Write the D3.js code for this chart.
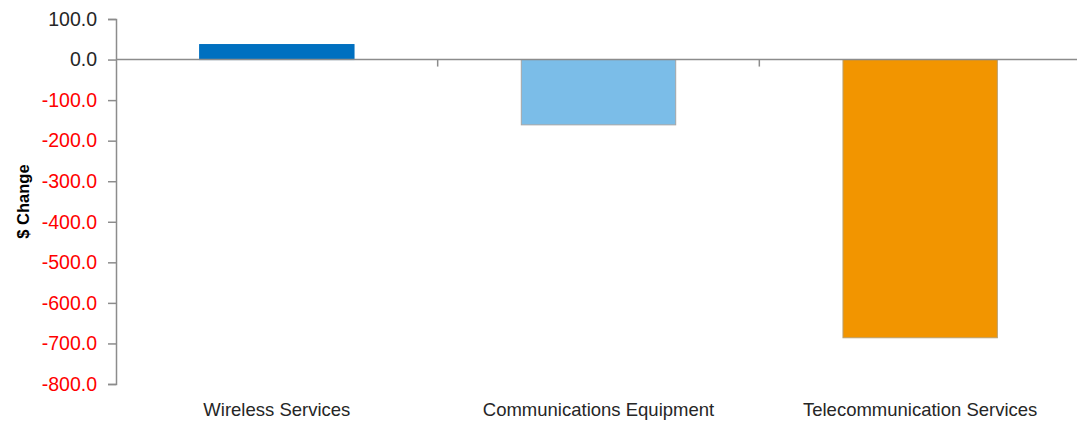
<!DOCTYPE html>
<html>
<head>
<meta charset="utf-8">
<script src="https://cdn.jsdelivr.net/npm/d3@7"></script>
<style>
  html, body { margin: 0; padding: 0; background: #fff; }
  svg { display: block; font-family: "Liberation Sans", Arial, sans-serif; }
</style>
</head>
<body>
<svg id="chart" width="1077" height="423"></svg>
<script>
// Change in dollars by industry
const categories = ["Wireless Services", "Communications Equipment", "Telecommunication Services"];
const values = [37, -161, -686];
const colors = ["#0070C0", "#7BBDE8", "#F29500"];
const strokes = ["#0070C0", "#A6A6A6", "#B8A070"];
const yTicks = [100, 0, -100, -200, -300, -400, -500, -600, -700, -800];

const svg = d3.select("#chart");
const margin = { left: 116, right: -4, top: 19, bottom: 39 };
const W = 1077, H = 423;

const x = d3.scaleBand()
  .domain(categories)
  .range([margin.left, W - margin.right])
  .paddingInner(0.52)
  .paddingOuter(0.26);

const y = d3.scaleLinear()
  .domain([-800, 100])
  .range([H - margin.bottom, margin.top]);

const axisColor = "#8C8C8C";
const fmt = (d) => d3.format(".1f")(d).replace("\u2212", "-");

// Bars
svg.append("g").selectAll("rect")
  .data(categories)
  .join("rect")
  .attr("x", (d) => x(d))
  .attr("width", x.bandwidth())
  .attr("y", (d, i) => y(Math.max(0, values[i])))
  .attr("height", (d, i) => Math.abs(y(values[i]) - y(0)))
  .attr("fill", (d, i) => colors[i])
  .attr("stroke", (d, i) => strokes[i])
  .attr("stroke-width", 1);

// Horizontal category axis at zero
svg.append("line")
  .attr("x1", margin.left).attr("x2", W)
  .attr("y1", y(0)).attr("y2", y(0))
  .attr("stroke", axisColor).attr("stroke-width", 1.5);

// Category separators below the zero line
const bounds = categories.slice(1).map((c) => x(c) - x.step() * x.paddingInner() / 2);
svg.append("g").selectAll("line")
  .data(bounds)
  .join("line")
  .attr("x1", (d) => d).attr("x2", (d) => d)
  .attr("y1", y(0)).attr("y2", y(0) + 7)
  .attr("stroke", axisColor).attr("stroke-width", 1.5);

// Category labels along the bottom
svg.append("g").selectAll("text")
  .data(categories)
  .join("text")
  .attr("x", (d) => x(d) + x.bandwidth() / 2)
  .attr("y", 416)
  .attr("text-anchor", "middle")
  .attr("font-size", 18.5)
  .attr("fill", "#262626")
  .text((d) => d);

// Vertical value axis
const yAxis = d3.axisLeft(y)
  .tickValues(yTicks)
  .tickSize(8)
  .tickFormat(fmt);

const gy = svg.append("g")
  .attr("transform", `translate(${margin.left},0)`)
  .call(yAxis);
gy.select(".domain").attr("stroke", axisColor).attr("stroke-width", 1.5);
gy.selectAll(".tick line").attr("stroke", axisColor).attr("stroke-width", 1.5);
gy.selectAll(".tick text")
  .attr("x", -19)
  .attr("font-size", 19.5)
  .attr("font-family", "Liberation Sans, Arial, sans-serif")
  .attr("fill", (d) => d < 0 ? "#FF0000" : "#262626");

// Value axis title
svg.append("text")
  .attr("transform", `translate(29, ${(163 + 240) / 2}) rotate(-90)`)
  .attr("text-anchor", "middle")
  .attr("font-size", 16.5)
  .attr("font-weight", "bold")
  .attr("fill", "#000")
  .text("$ Change");
</script>
</body>
</html>
